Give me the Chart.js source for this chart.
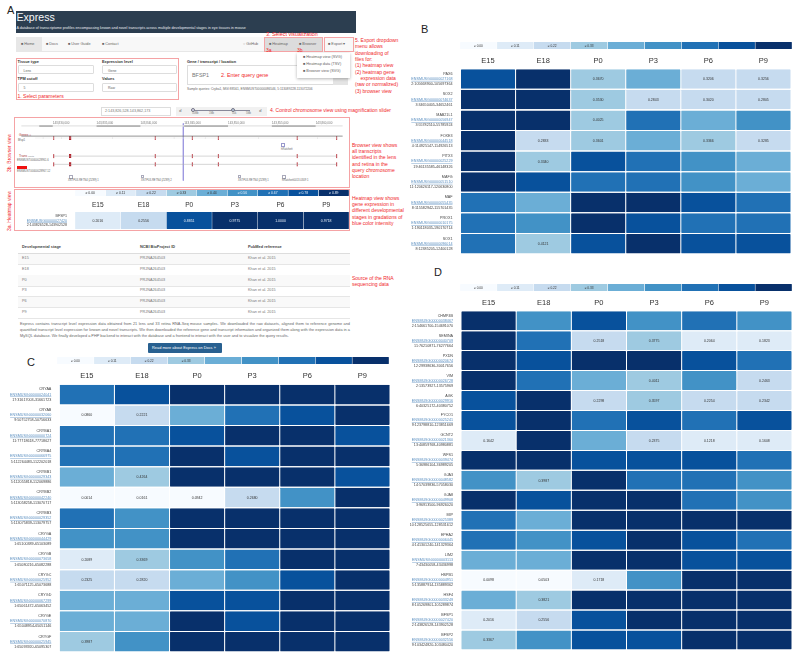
<!DOCTYPE html>
<html>
<head>
<meta charset="utf-8">
<title>Express</title>
<script src="https://cdn.jsdelivr.net/npm/chart.js@4/dist/chart.umd.min.js"></script>
<style>
html,body{margin:0;padding:0;background:#fff;}
body{position:relative;width:800px;height:659px;overflow:hidden;font-family:"Liberation Sans",Arial,sans-serif;color:#333;}
#page{position:absolute;left:0;top:0;width:800px;height:659px;background:#fff;filter:blur(.25px);}
canvas{position:absolute;display:block;}
.t{position:absolute;white-space:nowrap;line-height:1;}
.b{position:absolute;box-sizing:border-box;}
.red{color:#f0272b;font-size:5px;}
.rl{position:absolute;color:#f0272b;font-size:5px;line-height:6.35px;white-space:pre;}
.lab{font-size:3.9px;font-weight:bold;color:#333;}
.nav{font-size:3.8px;color:#666;}
.sel{position:absolute;box-sizing:border-box;border:.4px solid #ddd;border-radius:1px;height:9px;font-size:3.5px;color:#666;padding:2.8px 0 0 5px;background:#fff;}
.panel{font-size:11px;color:#222;}
.small{font-size:3.2px;color:#666;}
.link{color:#5b8fc0;}
.th{font-size:3.9px;font-weight:bold;color:#444;}
.td{font-size:3.8px;color:#777;}
</style>
</head>
<body>
<div id="page">

<!-- PANEL LETTERS -->
<div class="t panel" style="left:7px;top:5px;">A</div>
<div class="t panel" style="left:421px;top:24px;">B</div>
<div class="t panel" style="left:27px;top:357px;">C</div>
<div class="t panel" style="left:434px;top:267px;">D</div>

<!-- HEADER -->
<div class="b" style="left:15.5px;top:11px;width:340px;height:22px;background:#2c3e50;"></div>
<div class="t" style="left:16.5px;top:12px;font-size:10.6px;color:#f4f6f8;">Express</div>
<div class="t" style="left:16.5px;top:26.7px;font-size:3.65px;color:#e8edf2;">A database of transcriptome profiles encompassing known and novel transcripts across multiple developmental stages in eye tissues in mouse</div>

<!-- NAVBAR -->
<div class="b" style="left:15.5px;top:37px;width:340px;height:15px;background:#f8f8f8;border-bottom:.4px solid #e7e7e7;"></div>
<div class="b" style="left:15.5px;top:37px;width:26px;height:15px;background:#e7e7e7;"></div>
<div class="b" style="left:264px;top:37px;width:58px;height:15px;background:#dcdcdc;"></div>
<div class="t nav" style="left:21px;top:42.5px;">&#9632; Home</div>
<div class="t nav" style="left:46px;top:42.5px;">&#9632; Docs</div>
<div class="t nav" style="left:68px;top:42.5px;">&#9632; User Guide</div>
<div class="t nav" style="left:102px;top:42.5px;">&#9632; Contact</div>
<div class="t nav" style="left:243px;top:42.5px;">&#9675; GitHub</div>
<div class="t nav" style="left:269px;top:42.5px;">&#9632; Heatmap</div>
<div class="t nav" style="left:299px;top:42.5px;">&#9632; Browser</div>
<div class="t nav" style="left:328px;top:42.5px;">&#9632; Export &#9662;</div>
<div class="b" style="left:264px;top:37px;width:58.5px;height:15px;border:.7px solid #f5a3a5;"></div>
<div class="b" style="left:323.5px;top:37px;width:30.5px;height:15px;border:.7px solid #f5a3a5;"></div>
<div class="t red" style="left:266px;top:32px;font-size:5.4px;">3. Select visualization</div>
<div class="t red" style="left:266px;top:47.5px;">3a</div>
<div class="t red" style="left:297px;top:47.5px;">3b</div>
<div class="rl" style="left:355px;top:37px;">5. Export dropdown
menu allows
downloading of
files for:
(1) heatmap view
(2) heatmap gene
    expression data
(raw or normalized)
(3) browser view</div>

<!-- FORM -->
<div class="b" style="left:15.5px;top:58px;width:163px;height:42px;border:.8px solid #f5a3a5;"></div>
<div class="t lab" style="left:17.5px;top:59.5px;">Tissue type</div>
<div class="t lab" style="left:102px;top:59.5px;">Expression level</div>
<div class="sel" style="left:17.5px;top:65px;width:76px;">Lens</div>
<div class="sel" style="left:102px;top:65px;width:75px;">Gene</div>
<div class="t lab" style="left:17.5px;top:76.5px;">TPM cutoff</div>
<div class="t lab" style="left:102px;top:76.5px;">Values</div>
<div class="sel" style="left:17.5px;top:82.5px;width:76px;">5</div>
<div class="sel" style="left:102px;top:82.5px;width:75px;">Raw</div>
<div class="t red" style="left:17.5px;top:94px;">1. Select parameters</div>

<div class="t lab" style="left:187px;top:59.5px;">Gene / transcript / location</div>
<div class="b" style="left:187px;top:65px;width:161px;height:20px;border:.4px solid #ddd;"></div>
<div class="t" style="left:192px;top:72.5px;font-size:5.4px;color:#777;">BFSP1</div>
<div class="t red" style="left:221px;top:72.5px;font-size:5.4px;">2. Enter query gene</div>
<div class="b" style="left:333px;top:78px;width:15px;height:7px;background:#e4e4e4;"></div>
<div class="t small" style="left:187px;top:87.5px;">Sample queries: Cryba1, MGI:88561, ENSMUST00000086546, 5:113089228-113072206</div>

<!-- EXPORT DROPDOWN -->
<div class="b" style="left:297px;top:53px;width:53px;height:25px;background:#fff;box-shadow:0 1px 3px rgba(0,0,0,.3);"></div>
<div class="t nav" style="left:303px;top:55.7px;">&#9632; Heatmap view (SVG)</div>
<div class="t nav" style="left:303px;top:62.7px;">&#9632; Heatmap data (TSV)</div>
<div class="t nav" style="left:303px;top:70.2px;">&#9632; Browser view (SVG)</div>

<!-- SLIDER ROW -->
<div class="b" style="left:101px;top:107px;width:70px;height:9px;border:.4px solid #ddd;"></div>
<div class="t" style="left:105px;top:109.5px;font-size:3.7px;color:#777;">2:143,826,528-143,862,173</div>
<div class="b" style="left:176px;top:106.5px;width:91px;height:9.5px;background:#f1f1f1;"></div>
<div class="t" style="left:179px;top:108.5px;font-size:4px;color:#555;">&#9740;</div>
<div class="t" style="left:259px;top:108.5px;font-size:4px;color:#555;">&#9740;</div>
<div class="b" style="left:191px;top:109.8px;width:59px;height:.8px;background:#889;"></div>
<div class="b" style="left:191px;top:108px;width:4px;height:4px;border-radius:50%;background:#dde;border:.5px solid #778;"></div>
<div class="b" style="left:231px;top:108px;width:4px;height:4px;border-radius:50%;background:#bcd;border:.5px solid #778;"></div>
<div class="t" style="left:192px;top:113px;font-size:2.6px;color:#777;">50Mb</div>
<div class="t" style="left:209px;top:113px;font-size:2.6px;color:#777;">1Mb</div>
<div class="t" style="left:232px;top:113px;font-size:2.6px;color:#777;">50k</div>
<div class="t" style="left:246px;top:113px;font-size:2.6px;color:#777;">5Mb</div>
<div class="t red" style="left:270px;top:108px;">4. Control chromosome view using magnification slider</div>

<!-- BROWSER VIEW FRAME -->
<div class="b" style="left:14px;top:116.5px;width:336px;height:71px;border:.8px solid #f5a3a5;"></div>
<div class="t" style="left:19px;top:133.5px;font-size:3.2px;color:#a33;">Genes &#9675;</div>
<div class="t small" style="left:18px;top:138.5px;font-size:2.8px;">Bfsp1</div>
<div class="t" style="left:19px;top:155px;font-size:3.2px;color:#a33;">Trans <span style="font-size:2.5px;color:#888;">cripts</span></div>
<div class="t small" style="left:17px;top:160px;font-size:2.7px;">ENSMUST00000028961.6</div>
<div class="b" style="left:17px;top:166px;width:10px;height:3px;background:#f01010;"></div>
<div class="t small" style="left:17px;top:170.5px;font-size:2.7px;">ENSMUST00000028967.12</div>
<div class="b" style="left:68.5px;top:174.5px;width:4px;height:4px;border:.4px solid #aab;"></div>
<div class="b" style="left:141px;top:174.5px;width:3px;height:3px;border:.4px solid #aab;"></div>
<div class="b" style="left:238px;top:174.5px;width:3px;height:3px;border:.4px solid #aab;"></div>
<div class="b" style="left:282px;top:174.5px;width:4px;height:4px;border:.4px solid #aab;"></div>
<div class="b" style="left:281px;top:143px;width:4px;height:4px;border:.6px solid #99c;"></div>
<div class="t small" style="left:281px;top:148.5px;font-size:2.7px;">hRatchett</div>
<div class="t small" style="left:68px;top:179.5px;font-size:2.7px;">XSTP03-RETN4 (ZZ89) 1</div>
<div class="t small" style="left:141px;top:179.5px;font-size:2.7px;">XSTP03-RETN4 (ZZ89) 2</div>
<div class="t small" style="left:238px;top:179.5px;font-size:2.7px;">XSTP03-RETN4 (ZZ89) 1</div>
<div class="t small" style="left:282px;top:179.5px;font-size:2.7px;">hRatchett0013.0309 1</div>
<div class="rl" style="left:352px;top:141.5px;">Browser view shows
all transcripts
identified in the lens
and retina in the
query chromosome
location</div>
<div class="t red" style="left:0;top:0;transform-origin:0 0;transform:translate(7px,172px) rotate(-90deg);">3b. Browser view</div>

<!-- HEATMAP VIEW FRAME -->
<div class="b" style="left:14px;top:188.5px;width:336px;height:42px;border:.8px solid #f5a3a5;"></div>
<div class="t red" style="left:0;top:0;transform-origin:0 0;transform:translate(7px,231px) rotate(-90deg);">3a. Heatmap view</div>
<div class="rl" style="left:352px;top:194.5px;">Heatmap view shows
gene expression in
different developmental
stages in gradations of
blue color intensity</div>

<!-- SOURCE TABLE -->
<div class="t th" style="left:22px;top:245px;">Developmental stage</div>
<div class="t th" style="left:140px;top:245px;">NCBI BioProject ID</div>
<div class="t th" style="left:248px;top:245px;">PubMed reference</div>
<div class="b" style="left:18px;top:252.5px;width:332px;height:.5px;background:#ddd;"></div>
<div id="sourceTable"></div>
<div class="rl" style="left:352px;top:274.5px;">Source of the RNA
sequencing data</div>

<div class="b" style="left:20px;top:322px;width:330px;font-size:3.85px;line-height:5.8px;color:#666;text-align:justify;">Express contains transcript level expression data obtained from 21 lens and 33 retina RNA-Seq mouse samples. We downloaded the raw datasets, aligned them to reference genome and quantified transcript level expression for known and novel transcripts. We then downloaded the reference gene and transcript information and organized them along with the expression data in a MySQL database. We finally developed a PHP backend to interact with the database and a frontend to interact with the user and to visualize the query results.</div>
<div class="b" style="left:148px;top:342.5px;width:74px;height:10px;background:#286090;border-radius:1px;"></div>
<div class="t" style="left:152px;top:345.7px;font-size:3.9px;color:#fff;">Read more about Express on Docs &raquo;</div>

<canvas id="browserChart" width="334" height="70" style="left:15px;top:117px;"></canvas>
<canvas id="legendA" width="274" height="6" style="left:75px;top:190px;"></canvas>
<canvas id="heatA" width="334" height="30" style="left:15px;top:199px;"></canvas>
<canvas id="legendB" width="332" height="7" style="left:460px;top:42px;"></canvas>
<canvas id="heatB" width="391" height="200" style="left:400px;top:54px;"></canvas>
<canvas id="legendC" width="332" height="7" style="left:57px;top:357px;"></canvas>
<canvas id="heatC" width="390" height="282" style="left:0;top:370px;"></canvas>
<canvas id="legendD" width="332" height="7" style="left:460px;top:284px;"></canvas>
<canvas id="heatD" width="392" height="354" style="left:400px;top:296px;"></canvas>
</div>

<script>
// === DATA ===
const stages = ['E15', 'E18', 'P0', 'P3', 'P6', 'P9'];
const stageTicks = [0.5, 1.5, 2.5, 3.5, 4.5, 5.5];
const binColors = ['#f7fbff', '#deebf7', '#c6dbef', '#9ecae1', '#6baed6', '#4292c6', '#2171b5', '#08519c', '#08306b'];
const binCuts = [0, 0.11, 0.22, 0.33, 0.44, 0.56, 0.67, 0.78, 0.89];
const legendFull = ['≥ 0.00', '≥ 0.11', '≥ 0.22', '≥ 0.33', '≥ 0.44', '≥ 0.56', '≥ 0.67', '≥ 0.78', '≥ 0.89'];
const legendShort = ['≥ 0.00', '≥ 0.11', '≥ 0.22', '≥ 0.33', '', '', '', '', ''];

// Panel A, single gene heatmap
const genesA = ['BFSP1'];
const idsA = ['ENSMUSG00000027420'];
const locsA = ['2:143826528-143902528'];
const valsA = [[0.2016, 0.2556, 0.8851, 0.9775, 1.0000, 0.9718]];

// Panel B
const genesB = ['PAX6', 'SOX2', 'MAB21L1', 'FOXE3', 'PITX3', 'MAFG', 'MAF', 'PROX1', 'SOX1'];
const idsB = ['ENSMUSG00000027168', 'ENSMUSG00000074637', 'ENSMUSG00000056947', 'ENSMUSG00000044518', 'ENSMUSG00000025229',
    'ENSMUSG00000051510', 'ENSMUSG00000055435', 'ENSMUSG00000010175', 'ENSMUSG00000096014'];
const locsB = ['2:105668900-105697364', '3:34650405-34652461', '3:55782510-55785924', '4:114925147-114926513', '19:46135585-46148326',
    '11:120626117-120630800', '8:115582942-115701435', '1:190118035-190170714', '8:12385205-12400128'];
const valsB = [
    [0.83, 0.95, 0.3670, 0.50, 0.3206, 0.3256],
    [0.95, 0.95, 0.3530, 0.2843, 0.3020, 0.2805],
    [0.95, 0.95, 0.4025, 0.72, 0.50, 0.60],
    [0.95, 0.2833, 0.3601, 0.50, 0.3366, 0.3285],
    [0.95, 0.3340, 0.83, 0.72, 0.60, 0.50],
    [0.95, 0.83, 0.72, 0.72, 0.60, 0.50],
    [0.72, 0.50, 0.95, 0.95, 0.83, 0.72],
    [0.72, 0.60, 0.95, 0.83, 0.72, 0.72],
    [0.72, 0.4121, 0.83, 0.95, 0.83, 0.83]
];

// Panel C
const genesC = ['CRYAA', 'CRYAB', 'CRYBA1', 'CRYBA4', 'CRYBB1', 'CRYBB2', 'CRYBB3', 'CRYGA', 'CRYGB', 'CRYGC', 'CRYGD', 'CRYGE', 'CRYGF'];
const idsC = ['ENSMUSG00000024041', 'ENSMUSG00000032060', 'ENSMUSG00000000724', 'ENSMUSG00000066975', 'ENSMUSG00000029343',
    'ENSMUSG00000042240', 'ENSMUSG00000029352', 'ENSMUSG00000044429', 'ENSMUSG00000073658', 'ENSMUSG00000025952',
    'ENSMUSG00000067299', 'ENSMUSG00000070870', 'ENSMUSG00000025945'];
const locsC = ['17:31617003-31661723', '9:50752758-50756633', '11:77718618-77718627', '5:112264483-112202018', '5:112055818-112069886',
    '5:113058258-113070717', '5:113075839-113079757', '1:65100389-65103089', '1:65080216-65082288', '1:65071125-65073688',
    '1:65061472-65063452', '1:65048954-65051146', '1:65093920-65095307'];
const valsC = [
    [0.72, 0.83, 0.95, 0.95, 0.95, 0.95],
    [0.0860, 0.2221, 0.50, 0.72, 0.83, 0.95],
    [0.72, 0.72, 0.83, 0.95, 0.95, 0.83],
    [0.72, 0.72, 0.95, 0.83, 0.95, 0.95],
    [0.50, 0.4264, 0.95, 0.95, 0.95, 0.83],
    [0.0014, 0.0161, 0.0942, 0.2680, 0.60, 0.95],
    [0.72, 0.60, 0.95, 0.95, 0.95, 0.95],
    [0.60, 0.60, 0.95, 0.95, 0.95, 0.95],
    [0.2089, 0.3369, 0.60, 0.72, 0.95, 0.95],
    [0.2325, 0.2820, 0.50, 0.60, 0.83, 0.95],
    [0.50, 0.50, 0.83, 0.83, 0.95, 0.95],
    [0.50, 0.50, 0.95, 0.83, 0.95, 0.95],
    [0.3987, 0.60, 0.95, 0.95, 0.95, 0.95]
];

// Panel D
const genesD = ['CHMP4B', 'SEMINA', 'PXDN', 'VIM', 'AGK', 'FYCO1', 'GCNT2', 'WFS1', 'GJA3', 'GJA8', 'MIP', 'EPHA2', 'LIM2', 'HSPB1', 'HSF4', 'BFSP1', 'BFSP2'];
const idsD = ['ENSMUSG00000038467', 'ENSMUSG00000040709', 'ENSMUSG00000020674', 'ENSMUSG00000026728', 'ENSMUSG00000029916',
    'ENSMUSG00000025241', 'ENSMUSG00000021360', 'ENSMUSG00000039474', 'ENSMUSG00000048582', 'ENSMUSG00000049908',
    'ENSMUSG00000025389', 'ENSMUSG00000006445', 'ENSMUSG00000003113', 'ENSMUSG00000004951', 'ENSMUSG00000033249',
    'ENSMUSG00000027420', 'ENSMUSG00000032556'];
const locsD = ['2:154661700-154691070', '11:76210871-76277664', '12:29938636-30017656', '2:13573927-13575969', '6:40325172-40380752',
    '9:123798810-123851669', '13:40859768-40980881', '5:36986104-36989205', '14:57039836-57058030', '3:96913500-96926020',
    '10:128525655-128531612', '4:141301240-141329364', '7:43430058-43436998', '5:135887914-135889362', '8:105269801-105289874',
    '2:143826528-143902528', '9:103424820-103480420'];
const valsD = [
    [0.95, 0.60, 0.83, 0.60, 0.72, 0.60],
    [0.95, 0.72, 0.2518, 0.3775, 0.2064, 0.1823],
    [0.95, 0.83, 0.95, 0.95, 0.83, 0.72],
    [0.95, 0.72, 0.50, 0.4011, 0.60, 0.2463],
    [0.83, 0.95, 0.2298, 0.3597, 0.2254, 0.2342],
    [0.83, 0.95, 0.72, 0.83, 0.72, 0.83],
    [0.1642, 0.95, 0.50, 0.2375, 0.1218, 0.1608],
    [0.95, 0.95, 0.83, 0.83, 0.83, 0.72],
    [0.60, 0.3987, 0.95, 0.72, 0.72, 0.60],
    [0.95, 0.83, 0.95, 0.95, 0.72, 0.60],
    [0.72, 0.50, 0.95, 0.95, 0.95, 0.95],
    [0.72, 0.60, 0.83, 0.95, 0.83, 0.72],
    [0.50, 0.50, 0.95, 0.95, 0.83, 0.83],
    [0.0098, 0.0503, 0.1718, 0.60, 0.95, 0.95],
    [0.50, 0.3821, 0.95, 0.95, 0.95, 0.95],
    [0.2016, 0.2556, 0.83, 0.95, 0.95, 0.95],
    [0.3367, 0.60, 0.83, 0.83, 0.95, 0.95]
];

// Browser view, genomic positions in bp
const browserTicks = [143830000, 143835000, 143840000, 143845000, 143850000, 143855000, 143860000];
const rulerBands = [[143828460, 143830000], [143835000, 143840000], [143845000, 143850000], [143855000, 143860000]];
const exonsMajor = [143830110, 143841700, 143845930, 143848900, 143857900, 143862400];
const exonsWide = [143831980];
const exonsMinor = [143828900, 143831000, 143836800, 143843850, 143847400, 143853500, 143860200];
const cursorPos = 143844900;
const geneSpan = [143828000, 143862500];
const transcriptSpan = [143830110, 143862400];

// Source table
const tableStages = ['E15', 'E18', 'P0', 'P3', 'P6', 'P9'];
const tableProject = 'PRJNA264503';
const tableReference = 'Khan et al. 2015';

// === HELPERS ===
const FONT = '"Liberation Sans", Arial, sans-serif';

function binColor(v) {
    let i = binCuts.length - 1;
    while (i > 0 && v < binCuts[i]) i--;
    return binColors[i];
}

function isDark(color) {
    return binColors.indexOf(color) >= 5;
}

// Text inside the cells (value or legend label)
const cellTextPlugin = {
    id: 'cellText',
    afterDatasetsDraw(chart, args, opts) {
        const ctx = chart.ctx;
        ctx.save();
        ctx.font = opts.size + 'px ' + FONT;
        ctx.textAlign = 'center';
        ctx.textBaseline = 'middle';
        chart.data.datasets.forEach((ds, d) => {
            chart.getDatasetMeta(d).data.forEach((bar, i) => {
                const txt = ds.data[i].t;
                if (!txt) return;
                ctx.fillStyle = isDark(binColor(ds.data[i].v)) ? '#e8f0fa' : '#333';
                ctx.fillText(txt, (bar.x + bar.base) / 2, bar.y + 0.2);
            });
        });
        ctx.restore();
    }
};

// Tick labels placed from the x scale
const axisTextPlugin = {
    id: 'axisText',
    afterDraw(chart, args, opts) {
        if (!opts.values) return;
        const ctx = chart.ctx;
        const x = chart.scales.x;
        ctx.save();
        ctx.font = opts.size + 'px ' + FONT;
        ctx.textAlign = opts.align;
        ctx.textBaseline = 'middle';
        ctx.fillStyle = opts.color;
        opts.values.forEach((value, i) => {
            ctx.fillText(opts.labels[i], x.getPixelForValue(value), opts.y);
        });
        ctx.restore();
    }
};

// Gene name, Ensembl link and location left of each row
const geneLabelPlugin = {
    id: 'geneLabels',
    afterDraw(chart, args, opts) {
        if (!opts.ids) return;
        const ctx = chart.ctx;
        const y = chart.scales.y;
        const right = chart.chartArea.left - opts.gap;
        ctx.save();
        ctx.font = opts.size + 'px ' + FONT;
        ctx.textAlign = 'right';
        ctx.textBaseline = 'middle';
        chart.data.labels.forEach((name, i) => {
            const py = y.getPixelForValue(i);
            ctx.fillStyle = '#444';
            ctx.fillText(name, right, py - opts.line);
            ctx.fillText(opts.locs[i], right, py + opts.line);
            ctx.fillStyle = '#5b8fc0';
            ctx.fillText(opts.ids[i], right, py);
            const w = ctx.measureText(opts.ids[i]).width;
            ctx.fillRect(right - w, py + 1.9, w, 0.4);
        });
        ctx.restore();
    }
};

Chart.register(cellTextPlugin, axisTextPlugin, geneLabelPlugin);

// === HEATMAP ===
function drawHeatmap(id, genes, ids, locs, vals, opts) {
    const datasets = stages.map((stage, s) => ({
        label: stage,
        data: genes.map((g, r) => ({
            x: [s, s + 1],
            y: g,
            v: vals[r][s],
            t: (opts.allText || vals[r][s] < binCuts[4]) ? vals[r][s].toFixed(4) : ''
        })),
        backgroundColor: c => binColor(c.raw.v),
        borderColor: 'rgba(255,255,255,0.45)',
        borderWidth: { left: 0.5, right: 0.5, top: 0, bottom: 0 },
        borderSkipped: false,
        borderRadius: 1,
        grouped: false,
        barPercentage: 1,
        categoryPercentage: opts.rowFill
    }));
    return new Chart(document.getElementById(id), {
        type: 'bar',
        data: { labels: genes, datasets },
        options: {
            indexAxis: 'y',
            responsive: false,
            animation: false,
            layout: { padding: { left: opts.labelWidth, top: opts.headHeight, right: 0, bottom: 0 } },
            scales: {
                x: { type: 'linear', min: 0, max: 6, display: false },
                y: { type: 'category', display: false }
            },
            plugins: {
                legend: { display: false },
                tooltip: { enabled: false },
                cellText: { size: opts.textSize },
                axisText: {
                    values: stageTicks,
                    labels: stages,
                    y: opts.headHeight - opts.stageGap,
                    size: opts.stageSize,
                    align: 'center',
                    color: '#333'
                },
                geneLabels: { ids, locs, gap: 8, size: opts.labelSize, line: opts.labelLine }
            }
        }
    });
}

function drawLegend(id, labels, size) {
    const datasets = binColors.map((color, b) => ({
        data: [{ x: [b, b + 1], y: 'bins', v: binCuts[b], t: labels[b] }],
        backgroundColor: color,
        borderColor: '#fff',
        borderWidth: { left: 0.5, right: 0.5, top: 0, bottom: 0 },
        borderSkipped: false,
        borderRadius: 1,
        grouped: false,
        barPercentage: 1,
        categoryPercentage: 1
    }));
    return new Chart(document.getElementById(id), {
        type: 'bar',
        data: { labels: ['bins'], datasets },
        options: {
            indexAxis: 'y',
            responsive: false,
            animation: false,
            layout: { padding: 0 },
            scales: {
                x: { type: 'linear', min: 0, max: 9, display: false },
                y: { type: 'category', display: false }
            },
            plugins: {
                legend: { display: false },
                tooltip: { enabled: false },
                cellText: { size },
                axisText: {},
                geneLabels: {}
            }
        }
    });
}

// === BROWSER VIEW ===
function lineSet(points, color, width) {
    return { type: 'scatter', showLine: true, data: points, borderColor: color, borderWidth: width, pointRadius: 0 };
}

function exonSet(positions, row, radius, width) {
    return {
        type: 'scatter',
        data: positions.map(x => ({ x, y: row })),
        pointStyle: 'line',
        pointRotation: 90,
        pointRadius: radius,
        pointBorderColor: '#b3202a',
        pointBorderWidth: width
    };
}

function drawBrowser() {
    // rows in px below the top of the track area
    const geneRow = 18, tr1Row = 40, tr2Row = 50, rulerRow = 3.2, sepRow = 15.7;
    const datasets = [
        lineSet([{ x: 143826400, y: rulerRow }, { x: 143863100, y: rulerRow }], '#e4e4e4', 1.4),
        lineSet([{ x: 143826400, y: sepRow }, { x: 143863100, y: sepRow }], '#777', 0.8),
        lineSet([{ x: geneSpan[0], y: geneRow }, { x: geneSpan[1], y: geneRow }], '#e5e5e5', 0.5),
        lineSet([{ x: transcriptSpan[0], y: tr1Row }, { x: transcriptSpan[1], y: tr1Row }], '#aaa', 0.5),
        lineSet([{ x: transcriptSpan[0], y: tr2Row }, { x: transcriptSpan[1], y: tr2Row }], '#aaa', 0.5),
        lineSet([{ x: cursorPos, y: 0 }, { x: cursorPos, y: 70 }], '#9a94e0', 0.8)
    ];
    rulerBands.forEach(b => {
        datasets.push(lineSet([{ x: b[0], y: rulerRow }, { x: b[1], y: rulerRow }], '#111', 1.4));
    });
    [geneRow, tr1Row, tr2Row].forEach(row => {
        datasets.push(exonSet(exonsMajor, row, 2, 0.9));
        datasets.push(exonSet(exonsWide, row, 2, 2.2));
    });
    datasets.push({
        type: 'scatter',
        data: exonsMinor.map(x => ({ x, y: geneRow })),
        pointRadius: 0.4,
        pointBackgroundColor: '#aaa',
        pointBorderWidth: 0
    });

    return new Chart(document.getElementById('browserChart'), {
        type: 'scatter',
        data: { datasets },
        options: {
            responsive: false,
            animation: false,
            layout: { padding: 0 },
            scales: {
                x: { type: 'linear', min: 143826400, max: 143863100, display: false },
                y: { type: 'linear', min: 0, max: 70, reverse: true, display: false }
            },
            plugins: {
                legend: { display: false },
                tooltip: { enabled: false },
                cellText: { size: 3 },
                axisText: {
                    values: browserTicks,
                    labels: browserTicks.map(v => v.toLocaleString('en-US')),
                    y: 6.3,
                    size: 3,
                    align: 'left',
                    color: '#777'
                },
                geneLabels: {}
            }
        }
    });
}

// === SOURCE TABLE ===
function fillSourceTable() {
    const host = document.getElementById('sourceTable');
    tableStages.forEach((stage, i) => {
        const top = 253.5 + i * 10.75;
        let html = '';
        if (i % 2 === 0) {
            html += `<div class="b" style="left:18px;top:${top}px;width:332px;height:10.75px;background:#f9f9f9;"></div>`;
        }
        html += `<div class="b" style="left:18px;top:${top + 10.5}px;width:332px;height:.3px;background:#e6e6e6;"></div>`;
        html += `<div class="t td" style="left:22px;top:${top + 3.5}px;">${stage}</div>`;
        html += `<div class="t td link" style="left:140px;top:${top + 3.5}px;">${tableProject}</div>`;
        html += `<div class="t td link" style="left:248px;top:${top + 3.5}px;">${tableReference}</div>`;
        host.insertAdjacentHTML('beforeend', html);
    });
}

// === INITIALISATION ===
fillSourceTable();
drawBrowser();
drawLegend('legendA', legendFull, 3.4);
drawHeatmap('heatA', genesA, idsA, locsA, valsA, {
    allText: true, rowFill: 1, labelWidth: 60, headHeight: 13, stageGap: 7, stageSize: 6.6,
    textSize: 3.5, labelSize: 3.6, labelLine: 4.6
});
drawLegend('legendB', legendShort, 3.2);
drawHeatmap('heatB', genesB, idsB, locsB, valsB, {
    rowFill: 0.95, labelWidth: 60.5, headHeight: 14.7, stageGap: 8, stageSize: 7.5,
    textSize: 3.5, labelSize: 3.7, labelLine: 5.2
});
drawLegend('legendC', legendShort, 3.2);
drawHeatmap('heatC', genesC, idsC, locsC, valsC, {
    rowFill: 0.95, labelWidth: 59.3, headHeight: 14.3, stageGap: 8.3, stageSize: 7.5,
    textSize: 3.5, labelSize: 3.7, labelLine: 5.2
});
drawLegend('legendD', legendShort, 3.2);
drawHeatmap('heatD', genesD, idsD, locsD, valsD, {
    rowFill: 0.95, labelWidth: 61, headHeight: 14.7, stageGap: 8, stageSize: 7.5,
    textSize: 3.5, labelSize: 3.7, labelLine: 5
});
</script>
</body>
</html>
